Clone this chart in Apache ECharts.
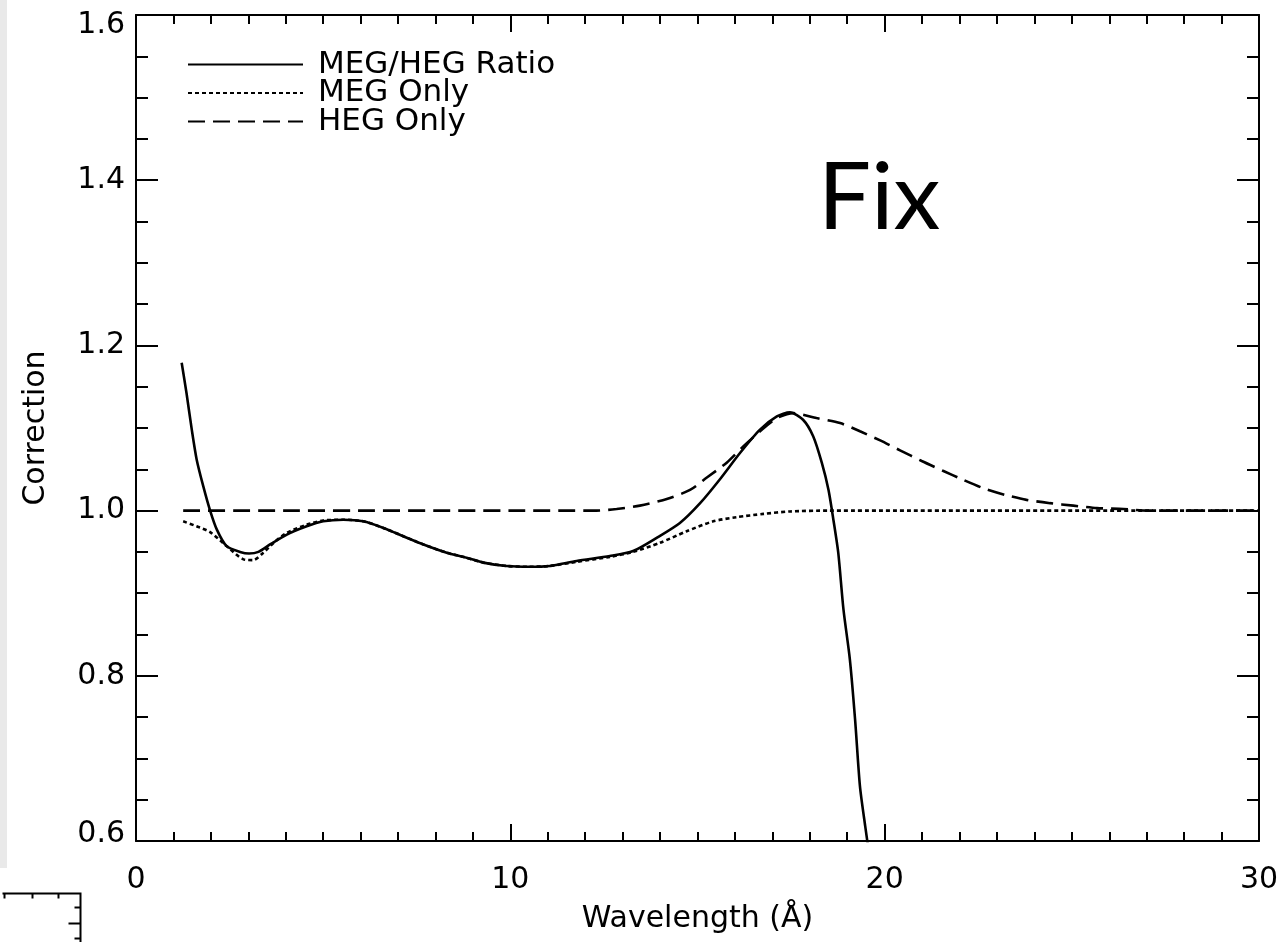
<!DOCTYPE html>
<html>
<head>
<meta charset="utf-8">
<script src="https://cdn.jsdelivr.net/npm/echarts@6/dist/echarts.min.js"></script>
<style>
  html, body { margin: 0; padding: 0; background: #fff; }
  #chart { width: 1285px; height: 942px; }
</style>
</head>
<body>
<div id="chart"></div>
<script>
// Effective-area correction versus wavelength (Å)
const ratioWave = [1.22, 1.35, 1.49, 1.62, 1.80, 1.98, 2.16, 2.42, 2.78, 3.02, 3.27, 3.58, 4.03, 4.56, 5.00, 5.54, 6.07, 6.61, 7.14, 7.68, 8.30, 8.83, 9.28, 9.90, 10.50, 11.06, 11.77, 12.66, 13.28, 13.91, 14.53, 15.07, 15.60, 16.14, 16.67, 17.12, 17.47, 17.82, 18.09, 18.32, 18.50, 18.63, 18.76, 18.90, 19.07, 19.21, 19.34, 19.48, 19.60];
const ratioValue = [1.179, 1.142, 1.098, 1.062, 1.029, 1.000, 0.977, 0.957, 0.950, 0.948, 0.950, 0.959, 0.971, 0.981, 0.987, 0.989, 0.987, 0.979, 0.969, 0.959, 0.949, 0.943, 0.937, 0.933, 0.932, 0.933, 0.939, 0.945, 0.951, 0.967, 0.985, 1.009, 1.038, 1.070, 1.098, 1.114, 1.119, 1.110, 1.090, 1.058, 1.025, 0.989, 0.949, 0.880, 0.820, 0.747, 0.666, 0.618, 0.580];

const megWave = [1.26, 1.62, 1.98, 2.42, 2.87, 3.13, 3.40, 3.70, 4.03, 4.56, 5.00, 5.54, 6.07, 6.61, 7.14, 7.68, 8.30, 8.83, 9.28, 9.90, 10.50, 11.06, 11.77, 12.66, 13.28, 14.00, 14.71, 15.42, 16.04, 16.76, 17.47, 18.50, 30.00];
const megValue = [0.987, 0.981, 0.974, 0.957, 0.941, 0.940, 0.949, 0.962, 0.973, 0.983, 0.988, 0.989, 0.987, 0.979, 0.969, 0.959, 0.949, 0.943, 0.937, 0.933, 0.932, 0.933, 0.938, 0.944, 0.950, 0.961, 0.975, 0.987, 0.992, 0.996, 0.999, 1.000, 1.000];

const hegWave = [1.26, 12.30, 12.84, 13.46, 14.18, 14.80, 15.25, 15.78, 16.23, 16.67, 17.12, 17.56, 18.18, 18.81, 19.34, 19.88, 20.41, 20.99, 21.57, 22.06, 22.64, 23.22, 23.79, 24.42, 25.04, 25.67, 26.38, 27.00, 30.00];
const hegValue = [1.000, 1.000, 1.002, 1.006, 1.014, 1.025, 1.040, 1.058, 1.078, 1.096, 1.112, 1.118, 1.112, 1.106, 1.096, 1.085, 1.073, 1.060, 1.048, 1.038, 1.027, 1.019, 1.013, 1.009, 1.006, 1.003, 1.002, 1.000, 1.000];

const seriesNames = ['MEG/HEG Ratio', 'MEG Only', 'HEG Only'];
const xRange = [0, 30];
const yRange = [0.6, 1.6];

const pairs = (xs, ys) => xs.map((x, i) => [x, ys[i]]);

const FONT = 'DejaVu Sans';
const INK = '#000';
const CURVE_W = 2.6;

function frameAxis(extra) {
  return Object.assign({
    type: 'value',
    axisLine: { show: true, onZero: false, lineStyle: { color: INK, width: 2 } },
    splitLine: { show: false },
    minorSplitLine: { show: false }
  }, extra);
}

const chart = echarts.init(document.getElementById('chart'), null, { renderer: 'canvas' });

chart.setOption({
  backgroundColor: '#fff',
  animation: false,
  title: {
    text: 'Fix',
    left: 813,
    top: 147,
    textStyle: { fontFamily: 'Lato', fontSize: 94, fontWeight: 'normal', color: INK }
  },
  legend: {
    orient: 'vertical',
    left: 182,
    top: 44,
    itemWidth: 115,
    itemHeight: 20,
    itemGap: -2.5,
    data: seriesNames,
    itemStyle: { opacity: 0 },
    textStyle: { fontFamily: FONT, fontSize: 31, color: INK, padding: [0, 0, 0, 10] }
  },
  grid: { left: 136, right: 26, top: 15, bottom: 101, containLabel: false },
  xAxis: [
    frameAxis({
      position: 'bottom',
      min: xRange[0], max: xRange[1], interval: 10,
      axisTick: { show: true, inside: true, length: 17, lineStyle: { color: INK, width: 2 } },
      minorTick: { show: true, splitNumber: 10, length: 9, lineStyle: { color: INK, width: 2 } },
      axisLabel: { color: INK, fontFamily: FONT, fontSize: 30, margin: 24 },
      name: 'Wavelength (Å)',
      nameLocation: 'middle',
      nameGap: 63,
      nameTextStyle: { color: INK, fontFamily: FONT, fontSize: 30 }
    }),
    frameAxis({
      position: 'top',
      min: xRange[0], max: xRange[1], interval: 10,
      axisTick: { show: true, inside: true, length: 17, lineStyle: { color: INK, width: 2 } },
      minorTick: { show: true, splitNumber: 10, length: 9, lineStyle: { color: INK, width: 2 } },
      axisLabel: { show: false }
    })
  ],
  yAxis: [
    frameAxis({
      position: 'left',
      min: yRange[0], max: yRange[1], interval: 0.2,
      axisTick: { show: true, inside: true, length: 22, lineStyle: { color: INK, width: 2 } },
      minorTick: { show: true, splitNumber: 4, length: 12, lineStyle: { color: INK, width: 2 } },
      axisLabel: {
        color: INK, fontFamily: FONT, fontSize: 30, margin: 11,
        formatter: v => {
          const t = v.toFixed(1);
          if (Math.abs(v - yRange[1]) < 1e-6) return '{hi|' + t + '}';
          if (Math.abs(v - yRange[0]) < 1e-6) return '{lo|' + t + '}';
          return t;
        },
        rich: {
          hi: { fontFamily: FONT, fontSize: 30, color: INK, padding: [20, 0, 0, 0] },
          lo: { fontFamily: FONT, fontSize: 30, color: INK, padding: [0, 0, 14, 0] }
        }
      },
      name: 'Correction',
      nameLocation: 'middle',
      nameGap: 85,
      nameRotate: 90,
      nameTextStyle: { color: INK, fontFamily: FONT, fontSize: 30 }
    }),
    frameAxis({
      position: 'right',
      min: yRange[0], max: yRange[1], interval: 0.2,
      axisTick: { show: true, inside: true, length: 22, lineStyle: { color: INK, width: 2 } },
      minorTick: { show: true, splitNumber: 4, length: 12, lineStyle: { color: INK, width: 2 } },
      axisLabel: { show: false }
    })
  ],
  series: [
    {
      name: seriesNames[0], type: 'line', data: pairs(ratioWave, ratioValue),
      symbol: 'none', smooth: 0.25, clip: true,
      lineStyle: { color: INK, width: CURVE_W, type: 'solid' },
      itemStyle: { color: INK }
    },
    {
      name: seriesNames[1], type: 'line', data: pairs(megWave, megValue),
      symbol: 'none', smooth: 0.25, clip: true,
      lineStyle: { color: INK, width: CURVE_W, type: [4, 3] },
      itemStyle: { color: INK }
    },
    {
      name: seriesNames[2], type: 'line', data: pairs(hegWave, hegValue),
      symbol: 'none', smooth: 0.25, clip: true,
      lineStyle: { color: INK, width: CURVE_W, type: [17, 8] },
      itemStyle: { color: INK }
    }
  ],
  graphic: [
    // pale strip along the left edge
    { type: 'rect', left: 0, top: 0, shape: { width: 7, height: 868 }, style: { fill: '#e9e9e9' }, silent: true },
    // corner of the neighbouring panel
    {
      type: 'group', left: 0, top: 891, silent: true,
      children: [
        { type: 'polyline', shape: { points: [[0, 1], [78, 1], [78, 60]] }, style: { stroke: INK, lineWidth: 2, fill: null } },
        { type: 'line', shape: { x1: 2, y1: 1, x2: 2, y2: 6 }, style: { stroke: INK, lineWidth: 2 } },
        { type: 'line', shape: { x1: 30, y1: 1, x2: 30, y2: 6 }, style: { stroke: INK, lineWidth: 2 } },
        { type: 'line', shape: { x1: 56, y1: 1, x2: 56, y2: 6 }, style: { stroke: INK, lineWidth: 2 } },
        { type: 'line', shape: { x1: 72, y1: 15, x2: 78, y2: 15 }, style: { stroke: INK, lineWidth: 2 } },
        { type: 'line', shape: { x1: 66, y1: 31, x2: 78, y2: 31 }, style: { stroke: INK, lineWidth: 2 } },
        { type: 'line', shape: { x1: 72, y1: 46, x2: 78, y2: 46 }, style: { stroke: INK, lineWidth: 2 } }
      ]
    }
  ]
});
</script>
</body>
</html>
